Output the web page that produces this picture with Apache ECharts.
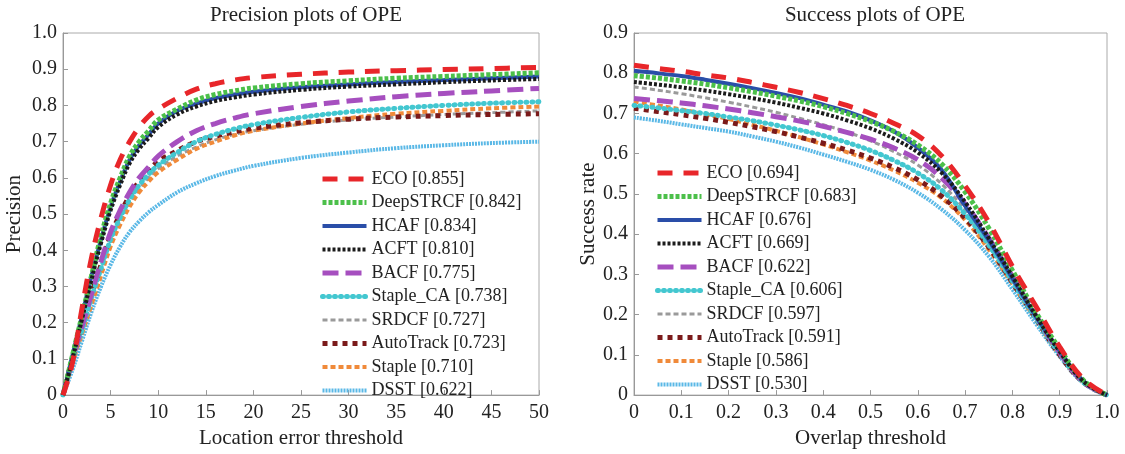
<!DOCTYPE html>
<html>
<head>
<meta charset="utf-8">
<script src="https://cdn.jsdelivr.net/npm/echarts@6/dist/echarts.min.js"></script>
<style>
  html, body { margin: 0; padding: 0; background: #fff; }
  #chart { width: 1125px; height: 454px; }
</style>
</head>
<body>
<div id="chart"></div>
<script>
// tracker names and AUC / DP scores from the legends
var trackers = ["ECO", "DeepSTRCF", "HCAF", "ACFT", "BACF", "Staple_CA", "SRDCF", "AutoTrack", "Staple", "DSST"];
var precScores = ["0.855", "0.842", "0.834", "0.810", "0.775", "0.738", "0.727", "0.723", "0.710", "0.622"];
var succScores = ["0.694", "0.683", "0.676", "0.669", "0.622", "0.606", "0.597", "0.591", "0.586", "0.530"];

// precision plot: location error threshold (px)
var precX = [0, 1, 2, 3, 4, 5, 6, 7, 8, 9, 10, 12, 14, 16, 18, 20, 25, 30, 35, 40, 45, 50];
var precECO       = [0, .09, .24, .38, .49, .58, .65, .70, .74, .77, .79, .82, .845, .86, .87, .877, .886, .892, .896, .899, .902, .905];
var precDeepSTRCF = [0, .11, .22, .33, .44, .53, .60, .66, .70, .73, .76, .79, .815, .83, .84, .848, .86, .868, .875, .88, .885, .89];
var precHCAF      = [0, .11, .22, .33, .43, .52, .59, .65, .69, .72, .75, .785, .805, .82, .83, .838, .85, .858, .865, .87, .875, .88];
var precACFT      = [0, .10, .21, .32, .42, .51, .58, .64, .68, .71, .74, .775, .797, .812, .822, .83, .843, .852, .858, .864, .869, .873];
var precBACF      = [0, .10, .19, .28, .37, .45, .51, .56, .60, .63, .66, .70, .73, .75, .765, .777, .797, .812, .824, .833, .84, .847];
var precStapleCA  = [0, .10, .18, .27, .35, .43, .49, .54, .58, .61, .635, .67, .70, .72, .735, .747, .767, .782, .792, .80, .806, .81];
var precSRDCF     = [0, .09, .18, .26, .34, .42, .48, .53, .57, .60, .625, .66, .685, .705, .72, .73, .748, .76, .768, .775, .78, .785];
var precAutoTrack = [0, .10, .19, .28, .36, .44, .50, .55, .59, .62, .645, .675, .70, .715, .727, .737, .752, .762, .768, .772, .775, .777];
var precStaple    = [0, .09, .17, .25, .33, .41, .47, .52, .56, .59, .615, .65, .68, .70, .717, .73, .75, .765, .777, .785, .792, .797];
var precDSST      = [0, .07, .15, .23, .30, .36, .41, .45, .48, .505, .525, .56, .585, .605, .62, .633, .655, .67, .682, .69, .696, .70];

// success plot: overlap threshold
var succX = [0, .05, .1, .15, .2, .25, .3, .35, .4, .45, .5, .55, .6, .65, .7, .75, .8, .85, .9, .95, 1.0];
var succECO       = [.82, .812, .805, .796, .788, .777, .765, .752, .737, .72, .70, .675, .645, .595, .52, .43, .32, .22, .12, .04, 0];
var succDeepSTRCF = [.794, .788, .781, .773, .764, .754, .743, .731, .717, .70, .68, .655, .622, .575, .505, .415, .31, .205, .115, .037, 0];
var succHCAF      = [.806, .80, .793, .784, .774, .763, .751, .738, .722, .705, .683, .655, .615, .56, .47, .385, .29, .195, .11, .035, 0];
var succACFT      = [.778, .772, .765, .757, .748, .738, .727, .714, .70, .683, .663, .637, .603, .553, .48, .39, .295, .197, .108, .034, 0];
var succBACF      = [.737, .732, .726, .719, .711, .702, .692, .681, .668, .653, .636, .614, .585, .54, .475, .39, .295, .197, .106, .033, 0];
var succStapleCA  = [.72, .714, .707, .70, .691, .682, .671, .659, .645, .628, .608, .583, .552, .51, .45, .373, .283, .19, .103, .032, 0];
var succSRDCF     = [.766, .758, .749, .739, .728, .716, .703, .688, .672, .654, .632, .605, .572, .525, .46, .38, .29, .195, .105, .033, 0];
var succAutoTrack = [.713, .705, .697, .688, .678, .667, .655, .641, .626, .609, .589, .565, .535, .495, .44, .368, .28, .19, .10, .032, 0];
var succStaple    = [.73, .72, .71, .698, .686, .672, .657, .641, .623, .604, .583, .558, .528, .49, .435, .362, .277, .187, .10, .032, 0];
var succDSST      = [.69, .682, .673, .664, .655, .643, .63, .615, .598, .58, .56, .535, .503, .462, .41, .345, .263, .177, .096, .03, 0];

var precData = [precECO, precDeepSTRCF, precHCAF, precACFT, precBACF, precStapleCA, precSRDCF, precAutoTrack, precStaple, precDSST];
var succData = [succECO, succDeepSTRCF, succHCAF, succACFT, succBACF, succStapleCA, succSRDCF, succAutoTrack, succStaple, succDSST];

// line looks, one per tracker (markers approximated with dash patterns)
var looks = [
  { color: "#e8262a", width: 5, type: [15, 11], cap: "butt", z: 20 },
  { color: "#4cc04a", width: 5, type: [4, 2], cap: "butt", z: 18 },
  { color: "#2a4ea8", width: 4, type: "solid", cap: "butt", z: 17 },
  { color: "#1b1b1b", width: 4, type: [3, 2], cap: "butt", z: 19 },
  { color: "#a64fbf", width: 5, type: [16, 7], cap: "butt", z: 16 },
  { color: "#43c7d0", width: 5, type: [1, 5], cap: "round", z: 15 },
  { color: "#9a9a9a", width: 3, type: [5, 3], cap: "butt", z: 12 },
  { color: "#7b1a1a", width: 5, type: [5, 5], cap: "butt", z: 14 },
  { color: "#f08a3a", width: 4, type: [5, 3], cap: "butt", z: 13 },
  { color: "#5ab8e6", width: 4, type: [2, 1], cap: "butt", z: 11 }
];

var font = "Liberation Serif, Times New Roman, serif";
var txt = "#222";

function pairs(xs, ys) {
  return xs.map(function (x, i) { return [x, ys[i]]; });
}

function axisCommon(extra) {
  var a = {
    type: "value",
    axisLine: { show: true, lineStyle: { color: "#999", width: 1 } },
    axisTick: { show: true, inside: true, length: 5, lineStyle: { color: "#999" } },
    splitLine: { show: false },
    axisLabel: { color: txt, fontFamily: font, fontSize: 20 },
    nameTextStyle: { color: txt, fontFamily: font, fontSize: 21 }
  };
  for (var k in extra) a[k] = extra[k];
  return a;
}

function fmtTick(v) {
  if (v === 0) return "0";
  return v.toFixed(1);
}

var series = [];
var precLegend = [], succLegend = [];
trackers.forEach(function (t, i) {
  var lk = looks[i];
  var ls = { color: lk.color, width: lk.width, type: lk.type, cap: lk.cap };
  var pn = t + " [" + precScores[i] + "]";
  var sn = t + " [" + succScores[i] + "]";
  precLegend.push({ name: pn, itemStyle: { opacity: 0 }, lineStyle: ls });
  succLegend.push({ name: sn, itemStyle: { opacity: 0 }, lineStyle: ls });
  series.push({
    name: pn, type: "line", xAxisIndex: 0, yAxisIndex: 0,
    data: pairs(precX, precData[i]), smooth: 0.4, symbol: "none",
    lineStyle: ls, itemStyle: { color: lk.color }, z: lk.z, animation: false
  });
  series.push({
    name: sn, type: "line", xAxisIndex: 1, yAxisIndex: 1,
    data: pairs(succX, succData[i]), smooth: 0.4, symbol: "none",
    lineStyle: ls, itemStyle: { color: lk.color }, z: lk.z, animation: false
  });
});

var legendCommon = {
  orient: "vertical",
  itemWidth: 44,
  itemHeight: 12,
  itemGap: 5.5,
  textStyle: { color: txt, fontFamily: font, fontSize: 18, lineHeight: 18 }
};

var chart = echarts.init(document.getElementById("chart"), null, { renderer: "canvas" });
chart.setOption({
  backgroundColor: "#fff",
  animation: false,
  title: [
    { text: "Precision plots of OPE", left: 301, top: 0, textAlign: "center",
      textStyle: { color: txt, fontFamily: font, fontSize: 21, fontWeight: "normal" } },
    { text: "Success plots of OPE", left: 870, top: 0, textAlign: "center",
      textStyle: { color: txt, fontFamily: font, fontSize: 21, fontWeight: "normal" } }
  ],
  grid: [
    { left: 63, top: 33, width: 476, height: 370, show: true, borderColor: "#aaa", borderWidth: 1 },
    { left: 634, top: 33, width: 473, height: 370, show: true, borderColor: "#aaa", borderWidth: 1 }
  ],
  xAxis: [
    axisCommon({ gridIndex: 0, min: 0, max: 50, interval: 5, name: "Location error threshold",
      nameLocation: "middle", nameGap: 30, axisLabel: { color: txt, fontFamily: font, fontSize: 20, margin: 8 } }),
    axisCommon({ gridIndex: 1, min: 0, max: 1, interval: 0.1, name: "Overlap threshold",
      nameLocation: "middle", nameGap: 30,
      axisLabel: { color: txt, fontFamily: font, fontSize: 20, margin: 8, formatter: fmtTick } })
  ],
  yAxis: [
    axisCommon({ gridIndex: 0, min: 0, max: 1, interval: 0.1, name: "Precision",
      nameLocation: "middle", nameGap: 38,
      axisLabel: { color: txt, fontFamily: font, fontSize: 20, margin: 6, formatter: fmtTick } }),
    axisCommon({ gridIndex: 1, min: 0, max: 0.9, interval: 0.1, name: "Success rate",
      nameLocation: "middle", nameGap: 33,
      axisLabel: { color: txt, fontFamily: font, fontSize: 20, margin: 6, formatter: fmtTick } })
  ],
  legend: [
    Object.assign({}, legendCommon, { data: precLegend, left: 315, top: 165 }),
    Object.assign({}, legendCommon, { data: succLegend, left: 650, top: 159 })
  ],
  series: series
});
</script>
</body>
</html>
